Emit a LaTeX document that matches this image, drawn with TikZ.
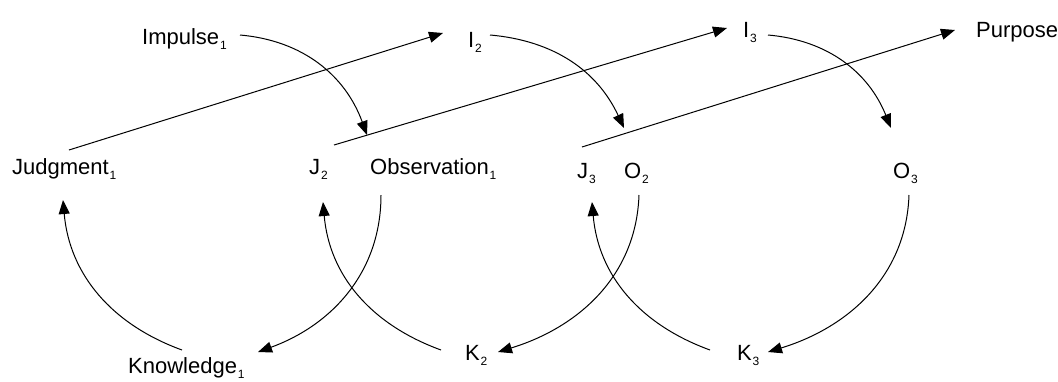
\documentclass[tikz,border=0pt]{standalone}
\usepackage{fontspec}
\setmainfont{Liberation Sans}
\usetikzlibrary{arrows.meta}
\newcommand{\sbx}[1]{\kern0.8pt\raisebox{-5.5pt}{\fontsize{12}{12}\selectfont #1}}
\begin{document}
\begin{tikzpicture}[x=1pt,y=1pt,
  lbl/.style={inner sep=0pt, anchor=base west, font=\fontsize{22}{26}\selectfont},
  conn/.style={line width=1pt, -{Triangle[length=14pt,width=11pt]}}]
\useasboundingbox (0,0) rectangle (1058,-381);
% labels
\node[lbl] (imp)  at (142,-44)  {Impulse\sbx{1}};
\node[lbl] (ii2)  at (468,-47)  {I\sbx{2}};
\node[lbl] (ii3)  at (743,-37)  {I\sbx{3}};
\node[lbl] (purp) at (976,-37)  {Purpose};
\node[lbl] (jud)  at (12,-174)  {Judgment\sbx{1}};
\node[lbl] (jj2)  at (309,-174) {J\sbx{2}};
\node[lbl] (obs)  at (370,-174) {Observation\sbx{1}};
\node[lbl] (jj3)  at (577,-178) {J\sbx{3}};
\node[lbl] (oo2)  at (624,-178) {O\sbx{2}};
\node[lbl] (oo3)  at (893,-178) {O\sbx{3}};
\node[lbl] (know) at (128,-373) {Knowledge\sbx{1}};
\node[lbl] (kk2)  at (465,-360) {K\sbx{2}};
\node[lbl] (kk3)  at (737,-360) {K\sbx{3}};
% connector end points
\coordinate (jud-o) at (69,-150);   \coordinate (ii2-i) at (443,-33);
\coordinate (jj2-o) at (334,-145);  \coordinate (ii3-i) at (727,-28);
\coordinate (jj3-o) at (582,-147);  \coordinate (purp-i) at (955,-30);
\coordinate (imp-o) at (240,-35);   \coordinate (obs-i) at (367,-135);
\coordinate (ii2-o) at (490,-35);   \coordinate (oo2-i) at (624,-128);
\coordinate (ii3-o) at (768,-35);   \coordinate (oo3-i) at (891,-128);
\coordinate (know-o) at (182,-350); \coordinate (jud-i) at (63,-200);
\coordinate (obs-o) at (381,-195);  \coordinate (know-i) at (258,-352);
\coordinate (kk2-o) at (441,-350);  \coordinate (jj2-i) at (323,-202);
\coordinate (oo2-o) at (639,-195);  \coordinate (kk2-i) at (498,-352);
\coordinate (kk3-o) at (710,-350);  \coordinate (jj3-i) at (592,-202);
\coordinate (oo3-o) at (909,-195);  \coordinate (kk3-i) at (768,-352);
% straight connectors
\draw[conn] (jud-o) -- (ii2-i);
\draw[conn] (jj2-o) -- (ii3-i);
\draw[conn] (jj3-o) -- (purp-i);
% top curves
\draw[conn] (imp-o) to[out=-5,in=110] (obs-i);
\draw[conn] (ii2-o) to[out=-5,in=115] (oo2-i);
\draw[conn] (ii3-o) to[out=-5,in=112] (oo3-i);
% bottom curves
\draw[conn] (know-o) to[out=160,in=-85] (jud-i);
\draw[conn] (obs-o) to[out=-90,in=20] (know-i);
\draw[conn] (kk2-o) to[out=160,in=-85] (jj2-i);
\draw[conn] (oo2-o) to[out=-92,in=17] (kk2-i);
\draw[conn] (kk3-o) to[out=160,in=-85] (jj3-i);
\draw[conn] (oo3-o) to[out=-92,in=17] (kk3-i);
\end{tikzpicture}
\end{document}
